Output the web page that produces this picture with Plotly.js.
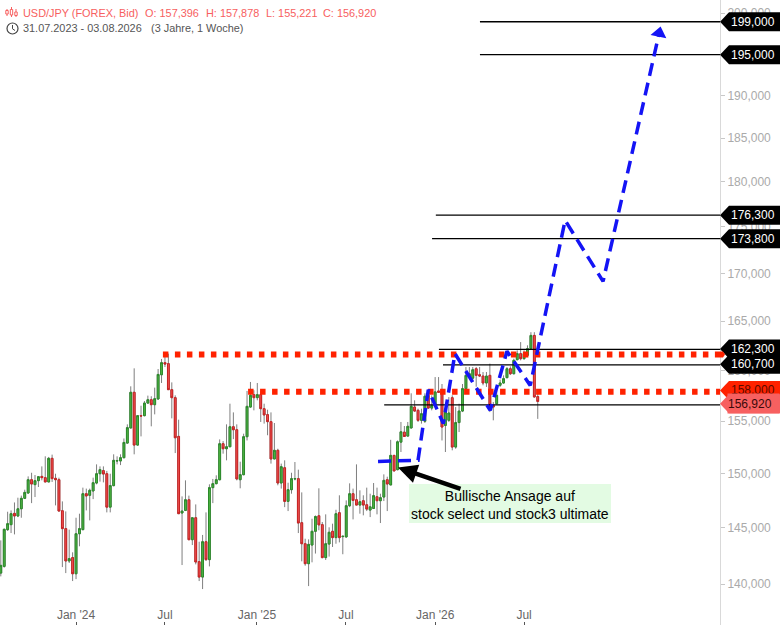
<!DOCTYPE html>
<html><head><meta charset="utf-8">
<script src="https://cdn.plot.ly/plotly-3.0.1.min.js"></script>
<style>html,body{margin:0;padding:0;background:#fff}#c{width:780px;height:625px}</style>
</head><body><div id="c"></div>
<script>
const open=[140960,141550,144840,145290,146320,146080,146740,147700,148190,149430,
148970,149340,149740,149620,149220,151440,149560,149430,146560,144930,
142030,142330,140900,144470,144840,148130,147980,148380,149120,149990,
150280,149990,146890,148880,151190,151190,151500,152890,154340,157820,
152700,155530,155530,156760,157090,156600,157160,159560,160770,160670,
158080,157290,153530,146350,146590,147570,143930,145920,141970,140610,
143750,142150,148690,149060,149430,152830,152350,152540,154460,154170,
149430,149900,153500,156370,157590,157290,157590,156210,155630,154950,
151380,152200,149120,150550,147420,148500,149500,149530,145470,143570,
141790,143450,144690,146100,145290,142330,143540,144690,144120,146380,
144210,144180,147020,148130,147570,147080,147480,147110,146620,146770,
147850,147480,147820,149430,148940,151720,150370,152980,153940,153560,
154340,156370,156050,155080,154990,157520,156270,156530,157950,157990,
154590,155080,157290,152510,154860,155980,158180,159400,159220,160160,
159560,159430,158740,159500,156530,156700,158510,158740,159270,160160,
159660,161070,161680,161170,161510,162180,163530,157396];
const high=[143870,144930,146470,146590,147320,147760,147950,148500,149740,150080,
149870,149740,150680,151630,151570,151790,149990,149620,147420,146500,
144840,142800,145920,146290,148690,148600,148600,149620,150870,150680,
150680,150250,149990,151820,151630,151820,153330,154690,158410,160200,
155530,156500,156960,157490,157430,158280,160130,161140,161810,161680,
158800,157520,155140,147880,149370,147950,145920,147140,143750,144360,
146410,149000,149500,149840,153240,153080,154690,156700,155850,154690,
151120,153790,157950,158840,158020,158740,157990,156700,156110,155850,
154820,152350,150940,151250,149150,150080,151090,150370,148250,144020,
143960,145830,146130,148630,145530,146230,145050,145380,146650,147980,
144240,147510,149090,148600,150870,148440,147980,148690,148130,149120,
148690,148130,149930,149710,153200,151720,153140,154920,154530,154920,
157720,157030,156210,156210,157720,157860,157520,159330,159330,158640,
156370,157350,157520,156370,156700,158640,160330,160330,160330,160330,
160330,159830,159830,160670,156860,157990,159070,159500,160330,160400,
161170,162010,162850,162010,162520,163860,163860,157878];
const low=[140670,141440,144720,144530,144410,145980,145920,147630,148130,147260,
147820,148750,149370,149220,149220,149220,147050,146530,141490,140960,
141850,140260,140430,143340,144780,146590,145680,147630,149000,149250,
149180,146410,146410,148810,150870,150800,151440,152830,154300,151820,
152640,153530,155470,156700,154500,155660,157090,158740,160330,158080,
155270,151940,146290,141670,146530,143930,143450,141730,140260,139560,
142030,141550,147260,149000,149370,151880,151250,152510,153270,149370,
148630,149840,153140,156310,156050,157030,154920,154760,153640,150940,
151380,148910,148600,146890,146530,148130,149370,144530,142000,141610,
139820,141910,142690,144780,142270,142120,142420,143280,143570,143690,
142630,144120,146890,145770,147080,146290,146140,146530,145980,146740,
146230,145440,147450,146530,148940,150250,150310,152040,153520,153530,
154300,155920,154920,154760,154820,156210,156050,156470,157760,153140,
152040,154920,152200,152350,153950,155880,157990,159330,158840,158370,
159330,158510,158350,155880,155080,156640,158350,158670,159210,159530,
159600,161000,161000,161070,161450,162110,157300,155221];
const close=[141640,144870,145380,146290,146080,146740,147700,148250,149430,149030,
149340,149710,149620,149220,151440,149530,149430,146530,144930,142030,
142240,140900,144470,144930,148130,147920,148440,149150,149990,150370,
149960,146890,148880,151250,151220,151500,152950,154370,157820,152700,
155530,155500,156760,157090,156600,157190,159590,160770,160630,158080,
157290,153400,146290,146530,147570,143930,145920,141940,140610,143750,
142150,148690,149060,149430,152830,152350,152540,154460,154170,149500,
149900,153500,156440,157520,157290,157590,156210,155600,154950,151380,
152200,149120,150650,147420,148500,149530,149530,145440,143570,141790,
143510,144690,146030,145270,142330,143570,144600,144120,146290,144120,
144240,147020,148130,147510,147080,147390,147080,146710,146920,147950,
147480,147760,149370,149030,151720,150250,153010,153970,153520,154500,
156440,155980,155080,155720,157430,156270,156530,157860,157820,154430,
155880,155790,152510,154860,155980,158180,159500,159660,160060,159500,
159440,158740,159430,156530,156370,157520,158740,159170,160160,159660,
161000,161680,161170,161680,162180,163530,157360,156920];

// week index along the time axis (0 = week of 31.07.2023)
const weeks=open.map((_,i)=>i);
const timeTicks=[22,48,74.9,100.9,127,153];
const timeLabels=["Jan '24","Jul","Jan '25","Jul","Jan '26","Jul"];
const priceTicks=[140000,145000,150000,155000,160000,165000,170000,175000,180000,185000,190000,195000,200000];

// forecast path drawn on the chart
const forecastWeek=[110.3,122.0,125.0,129.4,132.8,143.1,148.0,154.8,165.0,176.1,192.5];
const forecastPrice=[151150,151250,158080,154760,161680,156050,161910,158500,175720,169150,197520];

// support/resistance dots
const dotWeek=[[47.4,210.29],[72.3,210.29]];
const dotPrice=[161580,157880];

// thin black level lines
const lineStart=[140.1,140.1,127.2,126.1,128.1,129.3,112.1];
const linePrice=[198940,194890,176290,173720,162120,160550,156590];

// price tags on the right
const tagPrice=[198940,194890,176290,173720,162150,160600,158000,156700];
const tagText=["199,000","195,000","176,300","173,800","162,300","160,700","158,000","156,920"];

const X0=-0.234, X1=210.29, Y0=136460, Y1=201665;
const px=x=>x/720, py=y=>1-y/625;

const traces=[];
// wicks: full range candle in grey, bodies on top
traces.push({type:'candlestick',x:weeks,open:open,high:high,low:low,close:close,hoverinfo:'skip',showlegend:false,
  increasing:{line:{color:'#7f7f7f',width:1},fillcolor:'#7f7f7f'},
  decreasing:{line:{color:'#7f7f7f',width:1},fillcolor:'#7f7f7f'}});
traces.push({type:'candlestick',x:weeks,open:open,close:close,
  high:open.map((o,i)=>Math.max(o,close[i])),low:open.map((o,i)=>Math.min(o,close[i])),showlegend:false,
  increasing:{line:{color:'#2b8a2b',width:1},fillcolor:'#52b844'},
  decreasing:{line:{color:'#c92222',width:1},fillcolor:'#f25454'}});
linePrice.forEach((v,i)=>traces.push({type:'scatter',mode:'lines',x:[lineStart[i],X1],y:[v,v],showlegend:false,hoverinfo:'skip',
  line:{color:'#000',width:1.3}}));
dotPrice.forEach((v,i)=>traces.push({type:'scatter',mode:'lines',x:dotWeek[i],y:[v,v],showlegend:false,hoverinfo:'skip',
  line:{color:'#ff2200',width:6,dash:'5.5px,6.5px'}}));
traces.push({type:'scatter',mode:'lines',x:forecastWeek,y:forecastPrice,showlegend:false,hoverinfo:'skip',
  line:{color:'#1414f5',width:3.5,dash:'13px,7px'}});
traces.push({type:'scatter',mode:'markers',x:forecastWeek.slice(-1),y:forecastPrice.slice(-1),showlegend:false,hoverinfo:'skip',
  marker:{symbol:'triangle-up',size:14,color:'#1414f5',angle:12}});

const tagPath='M0,0 L9,9.5 L60,9.5 L60,-9.5 L9,-9.5 Z';
const tagFill=['#000','#000','#000','#000','#000','#000','#ff2200','#f76060'];
const shapes=tagPrice.map((v,i)=>({type:'path',xref:'paper',yref:'y',xsizemode:'pixel',ysizemode:'pixel',xanchor:1,yanchor:v,
  path:tagPath,fillcolor:tagFill[i],line:{width:0},layer:'above'}));
// tail of the upper dotted line on top of the black tags
shapes.push({type:'path',xref:'paper',yref:'y',xsizemode:'pixel',ysizemode:'pixel',xanchor:1,yanchor:dotPrice[0],
  path:'M0,3 L3,3 L5,0 L3,-3 L0,-3 Z',fillcolor:'#ff2200',line:{width:0},layer:'above'});
// note box
shapes.push({type:'rect',xref:'paper',yref:'paper',x0:px(409),x1:px(611),y0:py(484),y1:py(523),fillcolor:'#e3fbe3',line:{width:0},layer:'above'});
// header icons
const sal='#f76060';
[[7,9,16,10.5,14],[11.5,7,17,9.5,15],[16,9,17,12,15.5]].forEach(c=>{
  shapes.push({type:'line',xref:'paper',yref:'paper',x0:px(c[0]),x1:px(c[0]),y0:py(c[1]),y1:py(c[2]),line:{color:sal,width:1}});
  shapes.push({type:'rect',xref:'paper',yref:'paper',x0:px(c[0]-1.2),x1:px(c[0]+1.2),y0:py(c[3]),y1:py(c[4]),line:{color:sal,width:1},fillcolor:'#fff'});
});
shapes.push({type:'circle',xref:'paper',yref:'paper',x0:px(7),x1:px(18),y0:py(23),y1:py(34),line:{color:'#444',width:1.2}});
shapes.push({type:'line',xref:'paper',yref:'paper',x0:px(12.5),x1:px(12.5),y0:py(25),y1:py(28.8),line:{color:'#444',width:1}});
shapes.push({type:'line',xref:'paper',yref:'paper',x0:px(12.5),x1:px(15),y0:py(28.8),y1:py(30.5),line:{color:'#444',width:1}});

const font={family:'Liberation Sans'};
const head=(x,y,t,c)=>({xref:'paper',yref:'paper',x:px(x-1),y:py(y),xanchor:'left',yanchor:'middle',showarrow:false,text:t,borderpad:0,
  font:{family:'Liberation Sans',size:10.9,color:c}});
const anns=[
  head(23,13,'USD/JPY (FOREX, Bid)',sal),head(145,13,'O: 157,396',sal),head(205.5,13,'H: 157,878',sal),
  head(265.5,13,'L: 155,221',sal),head(323,13,'C: 156,920',sal),
  head(23,28.5,'31.07.2023 - 03.08.2026',"#555"),head(151,28.5,'(3 Jahre, 1 Woche)',"#555"),
  {xref:'paper',yref:'paper',x:px(510),y:py(505),xanchor:'center',yanchor:'middle',showarrow:false,borderpad:0,
   text:'Bullische Ansage auf<br>stock select und stock3 ultimate',align:'center',
   font:{family:'Liberation Sans',size:14,color:'#000'}},
  {xref:'paper',yref:'paper',x:px(398),y:py(467.5),axref:'pixel',ayref:'pixel',ax:64,ay:22,showarrow:true,text:'',
   arrowhead:2,arrowsize:0.85,arrowwidth:4.5,arrowcolor:'#000'}
];
tagPrice.forEach((v,i)=>{ if(i==7)return;
  anns.push({xref:'paper',yref:'y',x:729.5/720,y:Math.log10(v),xanchor:'left',yanchor:'middle',showarrow:false,text:tagText[i],borderpad:0,
   font:{family:'Liberation Sans',size:12,color:i==6?'#5a0a00':'#fff'}});
});
// the last-price tag's body is an annotation so it can cover the 158,000 label beneath it
anns.push({xref:'paper',yref:'y',x:780/720,y:Math.log10(tagPrice[7]),xanchor:'right',yanchor:'middle',showarrow:false,text:tagText[7],
  width:51,height:19,borderpad:0,align:'left',bgcolor:'#f76060',font:{family:'Liberation Sans',size:12,color:'#3a0a0a'}});

Plotly.newPlot('c',traces,{
  width:780,height:625,paper_bgcolor:'#fff',plot_bgcolor:'#fff',showlegend:false,font:font,
  margin:{l:0,r:60,t:0,b:0,pad:0},boxgap:0.25,
  xaxis:{type:'linear',range:[X0,X1],tickmode:'array',tickvals:timeTicks,ticktext:timeLabels,showgrid:false,zeroline:false,
    rangeslider:{visible:false},ticks:'inside',ticklen:3,tickcolor:'#555',ticklabelposition:'inside',showline:false,
    tickfont:{family:'Liberation Sans',size:12,color:'#666'},automargin:false},
  yaxis:{type:'log',side:'right',range:[Math.log10(Y0),Math.log10(Y1)],tickmode:'array',tickvals:priceTicks,
    ticktext:priceTicks.map(v=>v.toLocaleString('en-US')),showgrid:false,zeroline:false,showline:true,linecolor:'#d9d9d9',linewidth:1,
    ticks:'outside',ticklen:4,tickcolor:'#c8c8c8',tickfont:{family:'Liberation Sans',size:12,color:'#aaa'},automargin:false},
  shapes:shapes,annotations:anns
},{displayModeBar:false,staticPlot:true});
</script></body></html>
